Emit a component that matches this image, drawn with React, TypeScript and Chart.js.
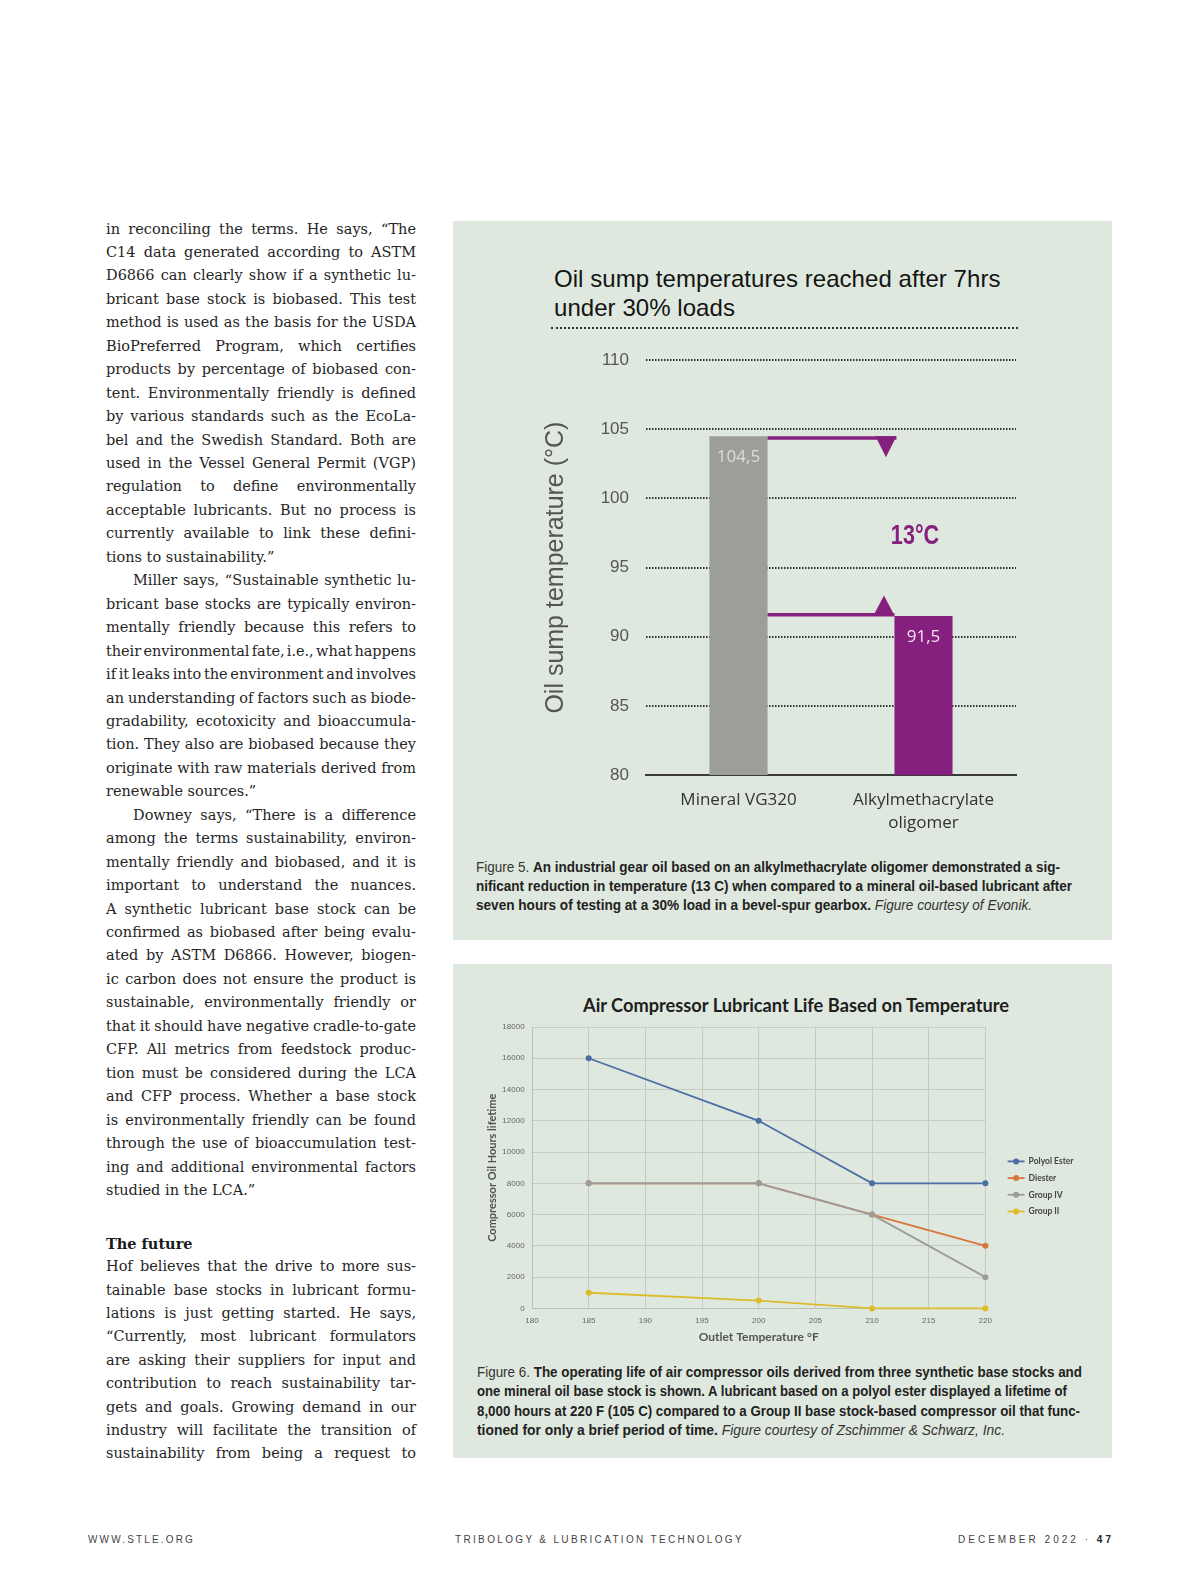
import React, { useEffect, useLayoutEffect, useRef } from 'react';
import { Chart, registerables } from 'chart.js';

Chart.register(...registerables);

// ---------- Figure 5 data ----------
const tempCategories: (string | string[])[] = ['Mineral VG320', ['Alkylmethacrylate', 'oligomer']];
const tempValues = [104.5, 91.5];
const tempValueLabels = ['104,5', '91,5'];
const tempDeltaLabel = '13°C';
const tempMin = 80;
const tempMax = 110;
const tempStep = 5;

// ---------- Figure 6 data ----------
const lifeTemps = [185, 200, 210, 220];
const polyolEster = [16000, 12000, 8000, 8000];
const diester = [8000, 8000, 6000, 4000];
const groupIV = [8000, 8000, 6000, 2000];
const groupII = [1000, 500, 0, 0];
const lifeSeriesNames = ['Polyol Ester', 'Diester', 'Group IV', 'Group II'];
const lifeXMin = 180;
const lifeXMax = 220;
const lifeXStep = 5;
const lifeYMax = 18000;
const lifeYStep = 2000;

// ---------- Body text ----------
const col1Lines = [
  'in reconciling the terms. He says, \u201cThe',
  'C14 data generated according to ASTM',
  'D6866 can clearly show if a synthetic lu-',
  'bricant base stock is biobased. This test',
  'method is used as the basis for the USDA',
  'BioPreferred Program, which certifies',
  'products by percentage of biobased con-',
  'tent. Environmentally friendly is defined',
  'by various standards such as the EcoLa-',
  'bel and the Swedish Standard. Both are',
  'used in the Vessel General Permit (VGP)',
  'regulation to define environmentally',
  'acceptable lubricants. But no process is',
  'currently available to link these defini-',
  'tions to sustainability.\u201d',
  'Miller says, \u201cSustainable synthetic lu-',
  'bricant base stocks are typically environ-',
  'mentally friendly because this refers to',
  'their environmental fate, i.e., what happens',
  'if it leaks into the environment and involves',
  'an understanding of factors such as biode-',
  'gradability, ecotoxicity and bioaccumula-',
  'tion. They also are biobased because they',
  'originate with raw materials derived from',
  'renewable sources.\u201d',
  'Downey says, \u201cThere is a difference',
  'among the terms sustainability, environ-',
  'mentally friendly and biobased, and it is',
  'important to understand the nuances.',
  'A synthetic lubricant base stock can be',
  'confirmed as biobased after being evalu-',
  'ated by ASTM D6866. However, biogen-',
  'ic carbon does not ensure the product is',
  'sustainable, environmentally friendly or',
  'that it should have negative cradle-to-gate',
  'CFP. All metrics from feedstock produc-',
  'tion must be considered during the LCA',
  'and CFP process. Whether a base stock',
  'is environmentally friendly can be found',
  'through the use of bioaccumulation test-',
  'ing and additional environmental factors',
  'studied in the LCA.\u201d',
];
const col1Indent = [15, 25];
const col1Last = [14, 24, 41];
const futureHeading = 'The future';
const col2Lines = [
  'Hof believes that the drive to more sus-',
  'tainable base stocks in lubricant formu-',
  'lations is just getting started. He says,',
  '\u201cCurrently, most lubricant formulators',
  'are asking their suppliers for input and',
  'contribution to reach sustainability tar-',
  'gets and goals. Growing demand in our',
  'industry will facilitate the transition of',
  'sustainability from being a request to',
];

type Mode = 'justify' | 'fit' | 'scale' | 'none';

function FitLine(props: {
  x: number;
  cy: number;
  w: number;
  size: number;
  mode: Mode;
  style?: React.CSSProperties;
  children: React.ReactNode;
}) {
  const { x, cy, w, size, mode, style, children } = props;
  const ref = useRef<HTMLSpanElement>(null);
  useLayoutEffect(() => {
    const measure = () => {
      const el = ref.current;
      if (!el) return;
      el.style.letterSpacing = '0px';
      el.style.wordSpacing = '0px';
      el.style.transform = 'none';
      const nat = el.getBoundingClientRect().width;
      const txt = el.textContent || '';
      const sp = (txt.match(/ /g) || []).length;
      let diff = w - nat;
      if (mode === 'scale') {
        el.style.transformOrigin = 'left center';
        el.style.transform = `scaleX(${w / nat})`;
        return;
      }
      if (mode === 'none') {
        if (diff < 0) el.style.letterSpacing = diff / txt.length + 'px';
        return;
      }
      if (mode === 'justify') {
        if (diff > 0 && sp > 0) {
          el.style.wordSpacing = diff / sp + 'px';
          return;
        }
        if (diff < 0 && sp > 0) {
          const ws = Math.max(diff / sp, -2.2);
          el.style.wordSpacing = ws + 'px';
          diff -= ws * sp;
        }
        if (Math.abs(diff) > 0.01) el.style.letterSpacing = diff / txt.length + 'px';
        return;
      }
      el.style.letterSpacing = diff / txt.length + 'px';
    };
    measure();
    if ((document as any).fonts && (document as any).fonts.ready) {
      (document as any).fonts.ready.then(measure);
    }
  }, [w, mode]);
  const lh = Math.round(size * 1.2);
  return (
    <span
      ref={ref}
      style={{
        position: 'absolute',
        left: x,
        top: cy - lh / 2,
        whiteSpace: 'pre',
        fontSize: size,
        lineHeight: lh + 'px',
        ...style,
      }}
    >
      {children}
    </span>
  );
}

const deltaPlugin = {
  id: 'deltaAnnot',
  afterDatasetsDraw(chart: any) {
    const { ctx } = chart;
    const yScale = chart.scales.y;
    const bars = chart.getDatasetMeta(0).data as any[];
    const b1 = bars[0];
    const b2 = bars[1];
    const purple = '#86207e';
    const r1 = b1.x + b1.width / 2;
    const l2 = b2.x - b2.width / 2;
    const yHi = b1.y;
    const yLo = b2.y;
    ctx.save();
    ctx.fillStyle = purple;
    ctx.fillRect(r1, yHi, l2 + 2 - r1, 3.5);
    ctx.beginPath();
    ctx.moveTo(l2 - 19, yHi);
    ctx.lineTo(l2 + 2, yHi);
    ctx.lineTo(l2 - 8.5, yHi + 21);
    ctx.closePath();
    ctx.fill();
    ctx.fillRect(r1, yLo - 3, l2 - r1, 3.5);
    ctx.beginPath();
    ctx.moveTo(l2 - 21, yLo - 0.5);
    ctx.lineTo(l2, yLo - 0.5);
    ctx.lineTo(l2 - 10.5, yLo - 20.5);
    ctx.closePath();
    ctx.fill();
    const mid = yScale.getPixelForValue((tempValues[0] + tempValues[1]) / 2);
    ctx.textAlign = 'center';
    ctx.textBaseline = 'middle';
    ctx.font = 'bold 27px "Liberation Sans", Arial, sans-serif';
    ctx.save();
    ctx.translate(b2.x - 8.5, mid + 10);
    ctx.scale(0.8, 1);
    ctx.fillText(tempDeltaLabel, 0, 0);
    ctx.restore();
    ctx.font = '17px "Open Sans", sans-serif';
    ctx.fillStyle = '#dcdedb';
    ctx.fillText(tempValueLabels[0], b1.x, b1.y + 21);
    ctx.fillStyle = '#f4e4f2';
    ctx.fillText(tempValueLabels[1], b2.x, b2.y + 21);
    ctx.restore();
  },
};

function TempChart() {
  const ref = useRef<HTMLCanvasElement>(null);
  useEffect(() => {
    const chart = new Chart(ref.current as HTMLCanvasElement, {
      type: 'bar',
      data: {
        labels: tempCategories as any,
        datasets: [
          {
            data: tempValues,
            backgroundColor: ['#9b9f97', '#86207e'],
            barPercentage: 0.314,
            categoryPercentage: 1,
          },
        ],
      },
      options: {
        responsive: false,
        animation: false,
        layout: { padding: { top: 0, right: 14, bottom: 10, left: 0 } },
        plugins: { legend: { display: false }, tooltip: { enabled: false } },
        scales: {
          x: {
            grid: { display: false, drawTicks: false },
            border: { display: true, color: '#3a3a3a', width: 2 },
            ticks: {
              color: '#333',
              font: { family: '"Open Sans", sans-serif', size: 17, lineHeight: 1.39 },
              padding: 13,
            },
            afterFit: (s: any) => {
              s.height = 70;
            },
          },
          y: {
            min: tempMin,
            max: tempMax,
            ticks: {
              stepSize: tempStep,
              color: '#555',
              font: { family: '"Liberation Sans", sans-serif', size: 17 },
              padding: 17,
            },
            grid: { color: '#333', lineWidth: 2, drawTicks: false },
            border: { display: false, dash: [1.5, 1.5] },
            title: {
              display: true,
              text: 'Oil sump temperature (°C)',
              color: '#555',
              font: { family: '"Liberation Sans", sans-serif', size: 25 },
              padding: { top: 11, bottom: 0 },
            },
            afterFit: (s: any) => {
              s.width = 116;
            },
          },
        },
      } as any,
      plugins: [deltaPlugin],
    });
    return () => chart.destroy();
  }, []);
  return (
    <canvas
      ref={ref}
      width={500}
      height={522}
      style={{ position: 'absolute', left: 530, top: 333, width: 500, height: 522 }}
    />
  );
}

const lifeColors = ['#4b6ea5', '#d8773d', '#9c9c9c', '#dcbb2c'];
const lifeOrder = [0, 2, 1, 3];

const lifeLegendPlugin = {
  id: 'lifeLegend',
  afterDraw(chart: any) {
    const { ctx, chartArea } = chart;
    ctx.save();
    chart.data.datasets.forEach((ds: any, i: number) => {
      const yy = chartArea.top + 134.4 + i * 16.7;
      const x0 = chartArea.right + 22.2;
      ctx.strokeStyle = ds.borderColor;
      ctx.lineWidth = 1.8;
      ctx.beginPath();
      ctx.moveTo(x0, yy);
      ctx.lineTo(x0 + 17, yy);
      ctx.stroke();
      ctx.fillStyle = ds.borderColor;
      ctx.beginPath();
      ctx.arc(x0 + 8.5, yy, 3, 0, Math.PI * 2);
      ctx.fill();
      ctx.fillStyle = '#454545';
      ctx.font = 'bold 8.5px Lato, sans-serif';
      ctx.textBaseline = 'middle';
      ctx.textAlign = 'left';
      ctx.fillText(ds.label, x0 + 21, yy);
    });
    ctx.restore();
  },
};

function LifeChart() {
  const ref = useRef<HTMLCanvasElement>(null);
  useEffect(() => {
    const series = [polyolEster, diester, groupIV, groupII];
    const chart = new Chart(ref.current as HTMLCanvasElement, {
      type: 'line',
      data: {
        datasets: series.map((vals, i) => ({
          label: lifeSeriesNames[i],
          data: lifeTemps.map((t, j) => ({ x: t, y: vals[j] })),
          borderColor: lifeColors[i],
          backgroundColor: lifeColors[i],
          pointBackgroundColor: lifeColors[i],
          pointBorderColor: lifeColors[i],
          pointRadius: 3,
          pointBorderWidth: 0,
          borderWidth: 1.8,
          order: lifeOrder[i],
          clip: false,
          tension: 0,
        })),
      },
      options: {
        responsive: false,
        animation: false,
        layout: { padding: { top: 17, right: 104.6, bottom: 1.6, left: 0 } },
        plugins: { legend: { display: false }, tooltip: { enabled: false } },
        scales: {
          x: {
            type: 'linear',
            min: lifeXMin,
            max: lifeXMax,
            ticks: {
              stepSize: lifeXStep,
              color: '#666',
              font: { family: '"Liberation Sans", sans-serif', size: 8 },
              padding: 7.3,
            },
            grid: { color: '#c3cbc3', lineWidth: 1, drawTicks: false },
            border: { color: '#b9c1b9' },
            title: {
              display: true,
              text: 'Outlet Temperature °F',
              color: '#555',
              font: { family: 'Lato, sans-serif', size: 12, weight: 'bold' },
              padding: { top: 0, bottom: 4.2 },
            },
            afterFit: (s: any) => {
              s.height = 40;
            },
          },
          y: {
            min: 0,
            max: lifeYMax,
            ticks: {
              stepSize: lifeYStep,
              color: '#666',
              font: { family: '"Liberation Sans", sans-serif', size: 8 },
              padding: 7.4,
              callback: (v: any) => String(v),
            },
            grid: { color: '#c3cbc3', lineWidth: 1, drawTicks: false },
            border: { color: '#b9c1b9' },
            title: {
              display: true,
              text: 'Compressor Oil Hours lifetime',
              color: '#505050',
              font: { family: 'Lato, sans-serif', size: 11, weight: 'bold' },
              padding: { top: 15.4, bottom: 0 },
            },
            afterFit: (s: any) => {
              s.width = 62;
            },
          },
        },
      } as any,
      plugins: [lifeLegendPlugin],
    });
    return () => chart.destroy();
  }, []);
  return (
    <canvas
      ref={ref}
      width={620}
      height={340}
      style={{ position: 'absolute', left: 470, top: 1010, width: 620, height: 340 }}
    />
  );
}

const serif = '"DejaVu Serif", "Liberation Serif", serif';
const sans = '"Liberation Sans", Arial, sans-serif';

export default function App() {
  const bodyColor = '#262626';
  const colX = 106;
  const colW = 310;
  const pitch1 = 23.45;
  const pitch2 = 23.4;
  const bodySize = 14.5;
  const capStyle: React.CSSProperties = { fontFamily: sans, color: '#222', fontWeight: 700 };
  const capReg: React.CSSProperties = { fontWeight: 400, color: '#333' };
  const capIt: React.CSSProperties = { fontWeight: 400, fontStyle: 'italic', color: '#333' };
  return (
    <div
      style={{
        position: 'absolute',
        left: 0,
        top: 0,
        width: 1200,
        height: 1588,
        background: '#ffffff',
        overflow: 'hidden',
      }}
    >
      {/* left text column */}
      {col1Lines.map((t, i) => {
        const ind = col1Indent.includes(i) ? 27 : 0;
        const last = col1Last.includes(i);
        return (
          <FitLine
            key={'c1' + i}
            x={colX + ind}
            cy={229 + i * pitch1}
            w={colW - ind}
            size={bodySize}
            mode={last ? 'none' : 'justify'}
            style={{ fontFamily: serif, color: bodyColor }}
          >
            {t}
          </FitLine>
        );
      })}
      <FitLine
        x={colX}
        cy={1243.3}
        w={colW}
        size={bodySize}
        mode="none"
        style={{ fontFamily: serif, color: '#1a1a1a', fontWeight: 700 }}
      >
        {futureHeading}
      </FitLine>
      {col2Lines.map((t, i) => (
        <FitLine
          key={'c2' + i}
          x={colX}
          cy={1266.7 + i * pitch2}
          w={colW}
          size={bodySize}
          mode="justify"
          style={{ fontFamily: serif, color: bodyColor }}
        >
          {t}
        </FitLine>
      ))}

      {/* Figure 5 panel */}
      <div
        style={{ position: 'absolute', left: 453, top: 221, width: 659, height: 719, background: '#dfe8de' }}
      />
      <FitLine x={554} cy={278.5} w={446.5} size={24} mode="fit" style={{ fontFamily: sans, color: '#141414' }}>
        Oil sump temperatures reached after 7hrs
      </FitLine>
      <FitLine x={554} cy={307} w={181} size={24} mode="fit" style={{ fontFamily: sans, color: '#141414' }}>
        under 30% loads
      </FitLine>
      <div
        style={{
          position: 'absolute',
          left: 551,
          top: 327,
          width: 467,
          height: 0,
          borderTop: '2px dotted #333',
        }}
      />
      <TempChart />
      <FitLine x={476} cy={866.7} w={584} size={15} mode="scale" style={capStyle}>
        <span style={capReg}>Figure 5. </span>
        An industrial gear oil based on an alkylmethacrylate oligomer demonstrated a sig-
      </FitLine>
      <FitLine x={476} cy={885.7} w={596} size={15} mode="scale" style={capStyle}>
        nificant reduction in temperature (13 C) when compared to a mineral oil-based lubricant after
      </FitLine>
      <FitLine x={476} cy={905} w={556} size={15} mode="scale" style={capStyle}>
        seven hours of testing at a 30% load in a bevel-spur gearbox.{' '}
        <span style={capIt}>Figure courtesy of Evonik.</span>
      </FitLine>

      {/* Figure 6 panel */}
      <div
        style={{ position: 'absolute', left: 453, top: 964, width: 659, height: 494, background: '#dfe8de' }}
      />
      <FitLine
        x={582.6}
        cy={1005}
        w={426}
        size={18}
        mode="scale"
        style={{ fontFamily: 'Lato, sans-serif', fontWeight: 700, color: '#1e1e1e' }}
      >
        Air Compressor Lubricant Life Based on Temperature
      </FitLine>
      <LifeChart />
      <FitLine x={477} cy={1371.7} w={605} size={15} mode="scale" style={capStyle}>
        <span style={capReg}>Figure 6. </span>
        The operating life of air compressor oils derived from three synthetic base stocks and
      </FitLine>
      <FitLine x={477} cy={1391.2} w={590} size={15} mode="scale" style={capStyle}>
        one mineral oil base stock is shown. A lubricant based on a polyol ester displayed a lifetime of
      </FitLine>
      <FitLine x={477} cy={1410.7} w={603} size={15} mode="scale" style={capStyle}>
        8,000 hours at 220 F (105 C) compared to a Group II base stock-based compressor oil that func-
      </FitLine>
      <FitLine x={477} cy={1430} w={528} size={15} mode="scale" style={capStyle}>
        tioned for only a brief period of time.{' '}
        <span style={capIt}>Figure courtesy of Zschimmer &amp; Schwarz, Inc.</span>
      </FitLine>

      {/* footer */}
      <FitLine x={88} cy={1540} w={107} size={10} mode="fit" style={{ fontFamily: sans, color: '#444' }}>
        WWW.STLE.ORG
      </FitLine>
      <FitLine x={455} cy={1540} w={289} size={10} mode="fit" style={{ fontFamily: sans, color: '#444' }}>
        TRIBOLOGY &amp; LUBRICATION TECHNOLOGY
      </FitLine>
      <FitLine x={958} cy={1540} w={156} size={10} mode="fit" style={{ fontFamily: sans, color: '#444' }}>
        DECEMBER 2022 {'\u00b7'} <span style={{ fontWeight: 700, color: '#222' }}>47</span>
      </FitLine>
    </div>
  );
}
